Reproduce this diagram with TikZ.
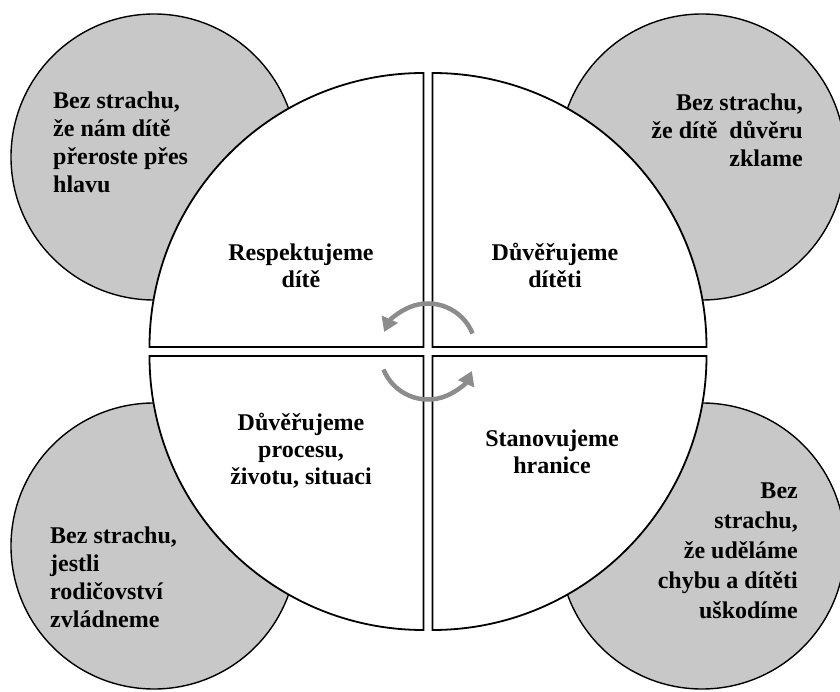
\documentclass[tikz,border=0pt]{standalone}
\usepackage{fontspec}
\setmainfont{Liberation Serif}
\usepackage{tikz}
\usetikzlibrary{calc,positioning,arrows.meta}
\definecolor{fearfill}{HTML}{C8C8C8}
\definecolor{arrowgray}{HTML}{8C8C8C}

\begin{document}
\begin{tikzpicture}[x=1pt, y=1pt,
		fear/.style={circle, draw=black, line width=1.4pt, fill=fearfill, minimum size=286pt, inner sep=0pt},
		quarter/.style={draw=black, line width=1.8pt, fill=white},
		feartext/.style={font=\fontsize{24}{28}\selectfont\bfseries, inner sep=0pt},
		quartertext/.style={font=\fontsize{24}{27}\selectfont\bfseries, inner sep=0pt, align=center, anchor=base},
		cyclearrow/.style={draw=arrowgray, line width=4.5pt, -{Triangle[length=14pt, width=17pt]}}]
			\useasboundingbox (0, 0) rectangle (840, 691);
			
			%%fears in the corners%%
			\node[fear] (fearTL) at (154, 534) {};
			\node[fear] (fearTR) at (702, 534) {};
			\node[fear] (fearBL) at (154, 145) {};
			\node[fear] (fearBR) at (702, 145) {};
			
			%%four quarters%%
			\draw[quarter] (423.5, 344) -- ++(0, 274) arc[start angle=90, end angle=180, radius=274] -- cycle;
			\draw[quarter] (432.5, 344) -- ++(274, 0) arc[start angle=0, end angle=90, radius=274] -- cycle;
			\draw[quarter] (423.5, 335) -- ++(-274, 0) arc[start angle=180, end angle=270, radius=274] -- cycle;
			\draw[quarter] (432.5, 335) -- ++(0, -274) arc[start angle=270, end angle=360, radius=274] -- cycle;
			
			\node[quartertext] (respect) at (301, 403) {Respektujeme\\dítě};
			\node[quartertext] (trustchild) at (555, 403) {Důvěřujeme\\dítěti};
			\node[quartertext] (trustlife) at (301, 207) {Důvěřujeme\\procesu,\\životu, situaci};
			\node[quartertext] (limits) at (552, 218) {Stanovujeme\\hranice};
			
			%%cycle in the middle%%
			\coordinate (hub) at (428, 339.5);
			\draw[cyclearrow] ([shift={(22:48)}]hub) arc[start angle=22, end angle=156, radius=48];
			\draw[cyclearrow] ([shift={(202:48)}]hub) arc[start angle=202, end angle=336, radius=48];
			
			\node[feartext, align=left, anchor=base west] (textTL) at (53, 498) {Bez strachu,\\že nám dítě\\přeroste přes\\hlavu};
			\node[feartext, align=right, anchor=base east] (textTR) at (803, 524) {Bez strachu,\\že dítě\ \ důvěru\\zklame};
			\node[feartext, align=left, anchor=base west] (textBL) at (50, 64) {Bez strachu,\\jestli\\rodičovství\\zvládneme};
			\node[feartext, align=right, anchor=base east, font=\fontsize{24}{30}\selectfont\bfseries] (textBR) at (798, 73) {Bez\\strachu,\\že uděláme\\chybu a dítěti\\uškodíme};
		\end{tikzpicture}
\end{document}
